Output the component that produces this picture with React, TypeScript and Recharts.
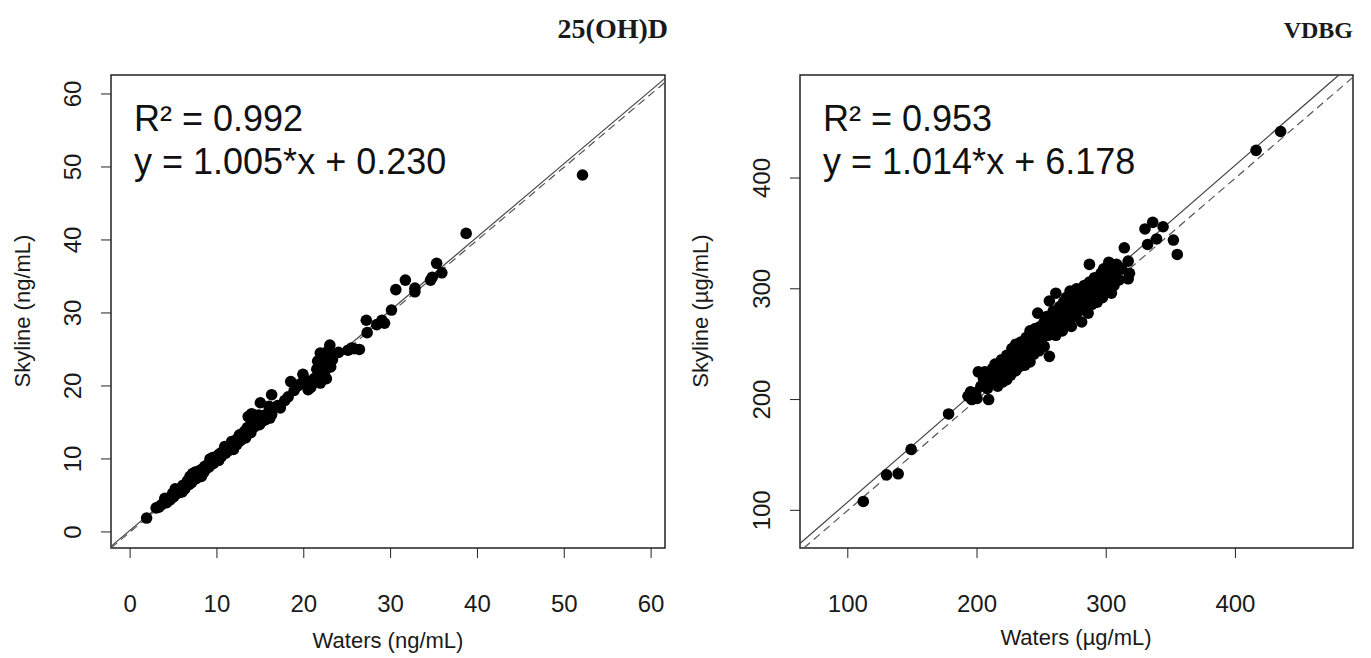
import { ScatterChart, Scatter, XAxis, YAxis, ReferenceLine, ReferenceArea } from "recharts";

// 25(OH)D panel, ng/mL
const ohdXTicks = [0, 10, 20, 30, 40, 50, 60];
const ohdYTicks = [0, 10, 20, 30, 40, 50, 60];
const ohdFit = { slope: 1.005, intercept: 0.23, r2: "0.992", eq: "y = 1.005*x + 0.230" };

// [Waters, Skyline]
const ohdPoints: [number, number][] = [
  [1.9, 1.9], [3.0, 3.3], [3.3, 3.4], [3.6, 3.7], [3.9, 4.1], [4.2, 4.0], [4.4, 4.6], [4.6, 4.4],
  [4.9, 5.3], [5.0, 4.8], [5.3, 5.2], [5.5, 5.8], [5.7, 5.4], [5.9, 6.0], [6.1, 6.4], [6.3, 5.9],
  [6.5, 6.6], [6.6, 7.0], [6.8, 6.5], [7.0, 7.2], [7.1, 6.8], [7.3, 7.6], [7.5, 8.2], [7.6, 7.3],
  [7.8, 7.9], [8.0, 8.4], [8.1, 7.8], [8.3, 8.6], [8.5, 8.2], [8.6, 9.0], [8.8, 8.7], [9.0, 9.3],
  [9.1, 8.9], [9.3, 9.6], [9.5, 10.2], [9.6, 9.4], [9.8, 9.9], [10.0, 10.4], [10.1, 10.0], [10.3, 10.7],
  [10.5, 10.3], [10.6, 10.9], [10.8, 11.2], [11.0, 10.8], [11.1, 11.5], [11.3, 11.1], [11.5, 11.8],
  [11.7, 12.4], [11.8, 11.6], [12.0, 12.1], [12.2, 12.6], [12.3, 12.0], [12.5, 13.0], [12.7, 12.5],
  [12.9, 13.4], [13.0, 12.8], [13.2, 13.8], [13.4, 13.3], [13.5, 14.3], [13.7, 14.0], [13.9, 13.6],
  [14.0, 14.8], [14.2, 15.3], [14.3, 14.4], [14.5, 15.8], [14.6, 15.0], [14.8, 16.0], [14.9, 14.7],
  [15.1, 15.5], [15.3, 15.2], [15.5, 16.0], [15.6, 15.4], [15.9, 15.7], [16.1, 15.6], [16.3, 16.1],
  [5.2, 5.9], [6.0, 5.5], [7.2, 8.0], [8.2, 7.6], [9.2, 10.0], [10.2, 9.8], [10.9, 11.7], [11.9, 11.3],
  [12.6, 13.3], [13.3, 12.9], [4.0, 4.6], [6.9, 7.6],
  [13.6, 15.8], [14.0, 16.2], [15.0, 17.7], [16.3, 18.8], [16.0, 17.2], [17.0, 17.3], [17.3, 17.0],
  [17.8, 18.0], [18.2, 18.5], [18.5, 20.6], [18.9, 19.4], [19.3, 20.0], [19.9, 21.6], [19.6, 20.3],
  [20.2, 20.8], [20.5, 19.5], [20.8, 19.8], [21.2, 21.0], [21.5, 22.3], [21.6, 23.4], [21.9, 24.5],
  [22.0, 21.4], [22.1, 22.8], [22.3, 23.9], [22.4, 24.0], [22.5, 22.2], [22.7, 23.2], [22.8, 24.8],
  [23.0, 25.6], [23.1, 22.6], [21.9, 20.4], [22.6, 21.0], [23.3, 23.6], [24.0, 24.6], [25.1, 24.9],
  [25.5, 25.2], [25.8, 25.1], [26.4, 25.0], [27.2, 29.0], [27.3, 27.3], [28.4, 28.4], [29.0, 29.0],
  [29.3, 28.6], [30.1, 30.4], [30.6, 33.2], [31.7, 34.5], [32.8, 33.4], [32.8, 32.9], [34.6, 34.5],
  [34.8, 34.9], [35.3, 36.8], [35.9, 35.5], [38.7, 40.9], [52.1, 48.9],
];

// VDBG panel, µg/mL
const vdbgXTicks = [100, 200, 300, 400];
const vdbgYTicks = [100, 200, 300, 400];
const vdbgFit = { slope: 1.014, intercept: 6.178, r2: "0.953", eq: "y = 1.014*x + 6.178" };

const vdbgPoints: [number, number][] = [
  [112, 108], [130, 132], [139, 133], [149, 155], [178, 187], [193, 203], [195, 207], [196, 200],
  [199, 206], [200, 201], [201, 225], [203, 212], [205, 219], [206, 225], [208, 210], [209, 200],
  [210, 222], [211, 215], [212, 228], [213, 218], [214, 232], [215, 224], [216, 212], [217, 230],
  [218, 220], [219, 236], [219, 226], [220, 216], [221, 232], [222, 224], [223, 240], [223, 218],
  [224, 230], [225, 237], [226, 222], [227, 246], [227, 234], [228, 228], [229, 240], [230, 226],
  [230, 250], [231, 236], [232, 244], [233, 230], [234, 252], [234, 241], [235, 236], [236, 248],
  [237, 231], [238, 256], [238, 244], [239, 239], [240, 251], [241, 262], [241, 234], [242, 246],
  [243, 256], [244, 241], [245, 264], [245, 252], [246, 247], [247, 278], [247, 258], [248, 244],
  [249, 266], [250, 254], [251, 260], [252, 270], [252, 248], [253, 262], [254, 275], [255, 258],
  [256, 289], [256, 239], [257, 268], [258, 262], [259, 280], [260, 270], [261, 296], [261, 258],
  [262, 276], [263, 266], [264, 284], [265, 272], [266, 262], [267, 288], [267, 278], [268, 270],
  [269, 292], [270, 282], [271, 274], [272, 298], [272, 286], [273, 266], [274, 280], [275, 292],
  [276, 275], [277, 300], [278, 288], [279, 280], [280, 296], [281, 270], [282, 290], [283, 303],
  [284, 284], [285, 296], [286, 278], [287, 322], [287, 306], [288, 292], [289, 286], [290, 302],
  [291, 310], [292, 296], [293, 288], [294, 306], [295, 300], [296, 314], [297, 292], [298, 318],
  [299, 306], [300, 298], [301, 312], [302, 324], [303, 305], [304, 296], [305, 318], [306, 303],
  [307, 313], [308, 322], [310, 308], [312, 318], [314, 337], [317, 325], [317, 309], [318, 314],
  [330, 354], [332, 340], [336, 360], [339, 345], [344, 356], [352, 344], [355, 331], [416, 425],
  [435, 442],
];

const SANS = "'Liberation Sans', Arial, sans-serif";
const SERIF = "'Liberation Serif', 'Times New Roman', serif";

type Dom = [number, number];

function clip(m: number, b: number, xd: Dom, yd: Dom) {
  const x0 = Math.max(xd[0], (yd[0] - b) / m);
  const x1 = Math.min(xd[1], (yd[1] - b) / m);
  return [
    { x: x0, y: m * x0 + b },
    { x: x1, y: m * x1 + b },
  ];
}

const XTick = (props: any) => (
  <text x={props.x} y={props.y + 52} textAnchor="middle" fontSize={24} fontFamily={SANS} fill="#1a1a1a">
    {props.payload.value}
  </text>
);

const YTick = (props: any) => {
  const bx = props.x - 18;
  return (
    <text
      x={bx}
      y={props.y}
      transform={`rotate(-90 ${bx} ${props.y})`}
      textAnchor="middle"
      fontSize={24}
      fontFamily={SANS}
      fill="#1a1a1a"
    >
      {props.payload.value}
    </text>
  );
};

const Dot = (props: any) => <circle cx={props.cx} cy={props.cy} r={5.8} fill="#000" />;

type PanelProps = {
  points: [number, number][];
  xDomain: Dom;
  yDomain: Dom;
  xTicks: number[];
  yTicks: number[];
  fit: { slope: number; intercept: number };
  width: number;
  margin: { top: number; right: number; bottom: number; left: number };
};

function Panel({ points, xDomain, yDomain, xTicks, yTicks, fit, width, margin }: PanelProps) {
  const data = points.map(([x, y]) => ({ x, y }));
  return (
    <ScatterChart width={width} height={658} margin={margin}>
      <XAxis
        type="number"
        dataKey="x"
        domain={xDomain}
        ticks={xTicks}
        allowDataOverflow
        axisLine={false}
        tickSize={10}
        tickLine={{ stroke: "#222" }}
        height={60}
        tick={XTick}
        interval={0}
      />
      <YAxis
        type="number"
        dataKey="y"
        domain={yDomain}
        ticks={yTicks}
        allowDataOverflow
        axisLine={false}
        tickSize={10}
        tickLine={{ stroke: "#222" }}
        width={60}
        tick={YTick}
        interval={0}
      />
      <ReferenceArea
        x1={xDomain[0]}
        x2={xDomain[1]}
        y1={yDomain[0]}
        y2={yDomain[1]}
        fill="none"
        stroke="#222"
        strokeWidth={1.5}
        ifOverflow="visible"
      />
      <Scatter data={data} shape={Dot} isAnimationActive={false} />
      <ReferenceLine
        segment={clip(fit.slope, fit.intercept, xDomain, yDomain)}
        stroke="#444"
        strokeWidth={1.2}
        ifOverflow="visible"
      />
      <ReferenceLine
        segment={clip(1, 0, xDomain, yDomain)}
        stroke="#555"
        strokeWidth={1.2}
        strokeDasharray="8 5"
        ifOverflow="visible"
      />
    </ScatterChart>
  );
}

export default function App() {
  return (
    <div style={{ position: "absolute", left: 0, top: 0, width: 1371, height: 658, background: "#fff" }}>
      <div style={{ position: "absolute", left: 0, top: 0 }}>
        <Panel
          points={ohdPoints}
          xDomain={[-2.2, 61.6]}
          yDomain={[-2.2, 62.6]}
          xTicks={ohdXTicks}
          yTicks={ohdYTicks}
          fit={ohdFit}
          width={690}
          margin={{ top: 75, right: 25, bottom: 50, left: 51 }}
        />
      </div>
      <div style={{ position: "absolute", left: 690, top: 0 }}>
        <Panel
          points={vdbgPoints}
          xDomain={[63, 491]}
          yDomain={[66, 493]}
          xTicks={vdbgXTicks}
          yTicks={vdbgYTicks}
          fit={vdbgFit}
          width={681}
          margin={{ top: 75, right: 18, bottom: 50, left: 50 }}
        />
      </div>
      <svg
        width={1371}
        height={658}
        style={{ position: "absolute", left: 0, top: 0, pointerEvents: "none" }}
      >
        <text x={668} y={38} textAnchor="end" fontFamily={SERIF} fontWeight="bold" fontSize={28} fill="#1a1a1a">
          25(OH)D
        </text>
        <text x={1353} y={38} textAnchor="end" fontFamily={SERIF} fontWeight="bold" fontSize={24} fill="#1a1a1a">
          VDBG
        </text>

        <text x={134} y={131} fontFamily={SANS} fontSize={36} fill="#111">
          R² = {ohdFit.r2}
        </text>
        <text x={134} y={174} fontFamily={SANS} fontSize={36} fill="#111">
          {ohdFit.eq}
        </text>
        <text x={823} y={131} fontFamily={SANS} fontSize={36} fill="#111">
          R² = {vdbgFit.r2}
        </text>
        <text x={823} y={174} fontFamily={SANS} fontSize={36} fill="#111">
          {vdbgFit.eq}
        </text>

        <text x={388} y={648} textAnchor="middle" fontFamily={SANS} fontSize={22} fill="#1a1a1a">
          Waters (ng/mL)
        </text>
        <text x={1076} y={645} textAnchor="middle" fontFamily={SANS} fontSize={22} fill="#1a1a1a">
          Waters (µg/mL)
        </text>
        <text
          x={30}
          y={311}
          transform="rotate(-90 30 311)"
          textAnchor="middle"
          fontFamily={SANS}
          fontSize={22}
          fill="#1a1a1a"
        >
          Skyline (ng/mL)
        </text>
        <text
          x={708}
          y={311}
          transform="rotate(-90 708 311)"
          textAnchor="middle"
          fontFamily={SANS}
          fontSize={22}
          fill="#1a1a1a"
        >
          Skyline (µg/mL)
        </text>
      </svg>
    </div>
  );
}
